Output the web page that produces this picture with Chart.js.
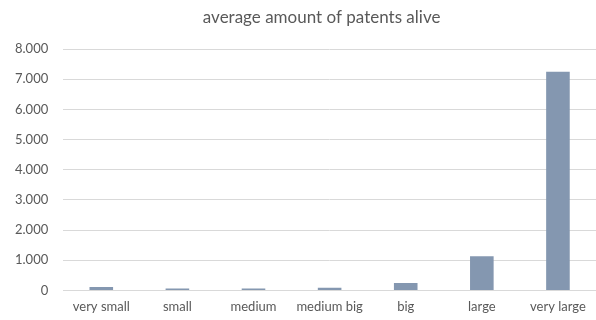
<!DOCTYPE html>
<html>
<head>
<meta charset="utf-8">
<script src="https://cdn.jsdelivr.net/npm/chart.js@4/dist/chart.umd.min.js"></script>
<style>
  html, body { margin: 0; padding: 0; background: #ffffff; }
  #wrap { width: 596px; height: 320px; }
</style>
</head>
<body>
<div id="wrap"><canvas id="c" width="596" height="320"></canvas></div>
<script>
// Company size classes and the average number of patents still in force
const sizeClasses = ['very small', 'small', 'medium', 'medium big', 'big', 'large', 'very large'];
const avgPatentsAlive = [110, 67, 67, 90, 245, 1130, 7250];
const chartTitle = 'average amount of patents alive';

const textColor = '#595959';
const gridColor = '#d9d9d9';
const fontFamily = 'Lato, "Open Sans", sans-serif';

// Title drawn centred over the plot area (slightly left of its middle)
const plotTitle = {
  id: 'plotTitle',
  afterDraw(chart) {
    const { ctx, chartArea } = chart;
    ctx.save();
    ctx.font = `17px ${fontFamily}`;
    ctx.fillStyle = textColor;
    ctx.textAlign = 'center';
    ctx.textBaseline = 'middle';
    ctx.fillText(chartTitle, (chartArea.left + chartArea.right) / 2 - 8, 18);
    ctx.restore();
  }
};

new Chart(document.getElementById('c'), {
  type: 'bar',
  data: {
    labels: sizeClasses,
    datasets: [{
      data: avgPatentsAlive,
      backgroundColor: '#8497b0',
      borderWidth: 0,
      categoryPercentage: 1,
      barPercentage: 0.31
    }]
  },
  options: {
    responsive: false,
    animation: false,
    layout: { padding: { left: 0, right: 0, top: 49, bottom: -4 } },
    plugins: {
      legend: { display: false },
      tooltip: { enabled: false },
      title: { display: false }
    },
    scales: {
      x: {
        grid: { display: false, drawTicks: false },
        border: { display: true, color: gridColor, width: 1 },
        ticks: {
          color: textColor,
          font: { family: fontFamily, size: 13 },
          padding: 9,
          maxRotation: 0,
          autoSkip: false
        }
      },
      y: {
        min: 0,
        max: 8000,
        grid: { color: gridColor, drawTicks: false, lineWidth: 1 },
        border: { display: false },
        ticks: {
          stepSize: 1000,
          color: textColor,
          font: { family: fontFamily, size: 13 },
          padding: 15,
          callback: v => v.toLocaleString('de-DE')
        }
      }
    }
  },
  plugins: [plotTitle]
});
</script>
</body>
</html>
